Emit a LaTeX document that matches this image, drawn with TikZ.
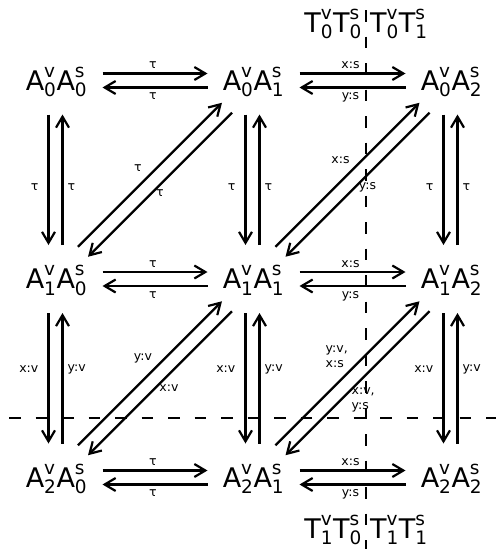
\documentclass[tikz,border=0pt]{standalone}
\usepackage{fontspec}
\setmainfont{DejaVu Sans}
\usepackage{amsmath}
\DeclareMathSizes{27}{27}{18.5}{14}
\usetikzlibrary{arrows.meta,calc}
\newcommand\SV[3]{\text{#1}_{\text{#2}}^{\text{#3}}}
\begin{document}
\begin{tikzpicture}[x=1pt,y=-1pt,
  obj/.style={inner sep=0pt,text height=19.7pt,text depth=0pt,font=\fontsize{27}{32}\selectfont},
  lbl/.style={inner sep=0pt,font=\fontsize{12.5}{15}\selectfont},
  arr/.style={line width=2.2pt,-{Straight Barb[length=11pt,width=13pt]}},
  dline/.style={line width=1.4pt,dash pattern=on 11.5pt off 15pt}]
\useasboundingbox (0,0) rectangle (496,549);
% dashed separators
\coordinate (vtop) at (366,10);
\coordinate (vbot) at (366,549);
\coordinate (hl) at (9,418);
\coordinate (hr) at (496,418);
\draw[dline] (vtop) -- (vbot);
\draw[dline] (hl) -- (hr);
% objects
\node[obj] (a00) at (56.5,80.5) {$\SV{A}{0}{v}\SV{A}{0}{s}$};
\node[obj] (a01) at (253.5,80.5) {$\SV{A}{0}{v}\SV{A}{1}{s}$};
\node[obj] (a02) at (451.5,80.5) {$\SV{A}{0}{v}\SV{A}{2}{s}$};
\node[obj] (a10) at (56.5,279) {$\SV{A}{1}{v}\SV{A}{0}{s}$};
\node[obj] (a11) at (253.5,279) {$\SV{A}{1}{v}\SV{A}{1}{s}$};
\node[obj] (a12) at (451.5,279) {$\SV{A}{1}{v}\SV{A}{2}{s}$};
\node[obj] (a20) at (56.5,477.5) {$\SV{A}{2}{v}\SV{A}{0}{s}$};
\node[obj] (a21) at (253.5,477.5) {$\SV{A}{2}{v}\SV{A}{1}{s}$};
\node[obj] (a22) at (451.5,477.5) {$\SV{A}{2}{v}\SV{A}{2}{s}$};
% T labels
\node[obj,anchor=east] (t0l) at (362,22.5) {$\SV{T}{0}{v}\SV{T}{0}{s}$};
\node[obj,anchor=west] (t0r) at (370,22.5) {$\SV{T}{0}{v}\SV{T}{1}{s}$};
\node[obj,anchor=east] (t1l) at (362,528.5) {$\SV{T}{1}{v}\SV{T}{0}{s}$};
\node[obj,anchor=west] (t1r) at (370,528.5) {$\SV{T}{1}{v}\SV{T}{1}{s}$};
% horizontal arrows
\foreach \r in {0,1,2} {
  \foreach \c/\d/\ta/\tb in {0/1/τ/τ,1/2/x:s/y:s} {
    \draw[arr] ([shift={(46,-7)}]a\r\c.center) -- ([shift={(-46,-7)}]a\r\d.center);
    \draw[arr] ([shift={(-46,7)}]a\r\d.center) -- ([shift={(46,7)}]a\r\c.center);
    \node[lbl,anchor=base] (hu\r\c) at ($(a\r\c)!0.5!(a\r\d)+(-2,-12)$) {\ta};
    \node[lbl,anchor=north] (hd\r\c) at ($(a\r\c)!0.5!(a\r\d)+(-2,12)$) {\tb};
  }
}
% vertical arrows
\foreach \c in {0,1,2} {
  \foreach \r/\s/\dy/\ta/\tb in {0/1/106.5/τ/τ,1/2/90.5/x:v/y:v} {
    \draw[arr] ([shift={(-8,34)}]a\r\c.center) -- ([shift={(-8,-34)}]a\s\c.center);
    \draw[arr] ([shift={(6,-34)}]a\s\c.center) -- ([shift={(6,34)}]a\r\c.center);
    \node[lbl,anchor=east] (vl\r\c) at ([shift={(-18,\dy)}]a\r\c.center) {\ta};
    \node[lbl,anchor=west] (vr\r\c) at ([shift={(11,\dy)}]a\r\c.center) {\tb};
  }
}
% diagonal arrows
\foreach \r/\s/\c/\d in {0/1/0/1,1/2/0/1,0/1/1/2,1/2/1/2} {
  \coordinate (m\r\c) at ($(a\s\c)!0.5!(a\r\d)$);
  \draw[arr] ($(a\s\c)!0.5!(a\r\d)+(-77,67)$) -- ($(a\s\c)!0.5!(a\r\d)+(67,-77)$);
  \draw[arr] ($(a\s\c)!0.5!(a\r\d)+(77,-67)$) -- ($(a\s\c)!0.5!(a\r\d)+(-67,77)$);
}
\node[lbl] (d1) at ($(m00)+(-17,-12)$) {τ};
\node[lbl] (d2) at ($(m00)+(5,13)$) {τ};
\node[lbl] (d3) at ($(m10)+(-12,-20)$) {y:v};
\node[lbl] (d4) at ($(m10)+(14,10)$) {x:v};
\node[lbl] (d5) at ($(m01)+(-12,-20)$) {x:s};
\node[lbl] (d6) at ($(m01)+(15,8)$) {y:s};
\node[lbl,align=left,anchor=west] (d7) at ($(m11)+(-27,-22)$) {y:v,\\x:s};
\node[lbl,align=left,anchor=west] (d8) at ($(m11)+(-1,22)$) {x:v,\\y:s};
\end{tikzpicture}
\end{document}
